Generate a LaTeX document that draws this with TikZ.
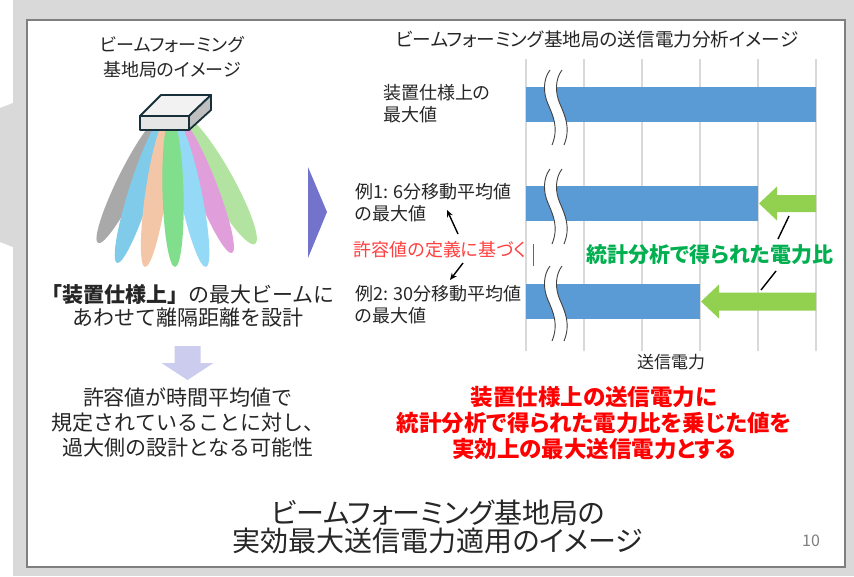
\documentclass[tikz,border=0pt]{standalone}
\usepackage{fontspec}
\setmainfont{Noto Sans CJK JP}[RawFeature={+palt}]
\newfontfamily\fullwidth{Noto Sans CJK JP}
\usetikzlibrary{arrows.meta}

\definecolor{bggray}{HTML}{D9D9D9}
\definecolor{slideedge}{HTML}{7F7F7F}
\definecolor{ink}{HTML}{262626}
\definecolor{gridgray}{HTML}{D9D9D9}
\definecolor{barblue}{HTML}{5B9BD5}
\definecolor{breakgray}{HTML}{404040}
\definecolor{arrowgreen}{HTML}{92D050}
\definecolor{ratiogreen}{HTML}{00B050}
\definecolor{basisred}{HTML}{FF4040}
\definecolor{boxline}{HTML}{17303A}
\definecolor{boxlight}{HTML}{F2F2F2}
\definecolor{boxside}{HTML}{BFBFBF}
\definecolor{nextarrow}{HTML}{7373CC}
\definecolor{downarrow}{HTML}{CCCCEE}
\definecolor{beamgray}{HTML}{A9A9A9}
\definecolor{beamblue}{HTML}{80CAEA}
\definecolor{beampeach}{HTML}{F4C6A8}
\definecolor{beamgreen}{HTML}{80DE8C}
\definecolor{beamsky}{HTML}{94D9F5}
\definecolor{beampink}{HTML}{E09EDB}
\definecolor{beamlime}{HTML}{B3E3A0}

\tikzset{
  txt/.style={inner sep=0pt, text=ink},
  gridline/.style={gridgray, line width=1.3pt},
  barfill/.style={fill=barblue},
  brkline/.style={draw=breakgray, line width=0.9pt},
  ptr/.style={-{Stealth[length=7pt,width=6pt]}, line width=1.4pt, black},
  leader/.style={line width=1.4pt, black},
  garrow/.style={fill=arrowgreen},
  boxface/.style={draw=boxline, line width=1.8pt, line join=round},
  brkmark/.pic={
    \fill[white] (0,0) .. controls (-7,9) and (-7,23) .. (-2,34)
      .. controls (3,46) and (9,58) .. (2,75) -- (14,75)
      .. controls (21,58) and (15,46) .. (10,34)
      .. controls (5,23) and (5,9) .. (12,0) -- cycle;
    \draw[brkline] (0,0) .. controls (-7,9) and (-7,23) .. (-2,34)
      .. controls (3,46) and (9,58) .. (2,75);
    \draw[brkline] (12,0) .. controls (5,9) and (5,23) .. (10,34)
      .. controls (15,46) and (21,58) .. (14,75);
  }
}

\begin{document}
\begin{tikzpicture}[x=1pt,y=-1pt]
\useasboundingbox (0,0) rectangle (854,576);

% backdrop and slide
\fill[white] (0,0) rectangle (854,576);
\fill[bggray] (13,0) rectangle (854,576);
\fill[bggray] (0,108) -- (13,103) -- (13,247) -- (0,242) -- cycle;
\filldraw[fill=white, draw=slideedge, line width=1.6pt] (27,20) rectangle (845,567);

% beams of the antenna
\foreach \tx/\ty/\px/\py/\w/\c in {
    160/118/98/243/22/beamgray,
    183/116/255/244/27/beamlime,
    163/118/117/263/22/beamblue,
    179/118/232/253/22/beampink,
    167/118/145/267/21/beampeach,
    175/118/206/267/22/beamsky,
    171/118/175/267/21/beamgreen} {
  \pgfmathsetmacro\ang{atan2(\px-\tx,\py-\ty)}
  \pgfmathsetmacro\len{veclen(\px-\tx,\py-\ty)}
  \begin{scope}[shift={(\tx,\ty)}, rotate=\ang]
    \fill[\c] (0,\len/2) ellipse ({\w/2} and {\len/2});
  \end{scope}
}

% antenna box
\filldraw[boxface, fill=boxlight] (140,116) -- (161,95) -- (211,95) -- (189,116) -- cycle;
\filldraw[boxface, fill=boxside] (189,116) -- (211,95) -- (211,110) -- (189,130) -- cycle;
\filldraw[boxface, fill=boxlight!95!black] (140,116) rectangle (189,130);

% left column texts
\node[txt, align=center, font=\fontsize{18}{25}\selectfont] (bstitle) at (172,57.5)
  {ビームフォーミング\\基地局のイメージ};
\node[txt, align=center, font=\fullwidth\fontsize{21}{22.5}\selectfont] (design) at (188,306)
  {{\bfseries 「装置仕様上」}の最大ビームに\\あわせて離隔距離を設計};
\fill[downarrow] (174.5,346) -- (200.5,346) -- (200.5,363) -- (213.5,363)
  -- (187.5,380) -- (161.5,363) -- (174.5,363) -- cycle;
\node[txt, align=center, font=\fullwidth\fontsize{21}{25}\selectfont] (risk) at (188,422)
  {許容値が時間平均値で\\規定されていることに対し、\\過大側の設計となる可能性};

% step marker
\fill[nextarrow] (308,167) -- (327,212) -- (308,258) -- cycle;

% chart
\node[txt, font=\fontsize{18.6}{22}\selectfont] (charttitle) at (597,39)
  {ビームフォーミング基地局の送信電力分析イメージ};
\foreach \gx in {526,584,642,700,758,816}
  \draw[gridline] (\gx,59) -- (\gx,351);
\fill[barfill] (526,87) rectangle (816,122);
\fill[barfill] (526,186) rectangle (758,221);
\fill[barfill] (526,284) rectangle (700,319);
\pic at (550,70) {brkmark};
\pic at (550,169) {brkmark};
\pic at (550,266) {brkmark};
\fill[garrow] (759,203.5) -- (777,186.5) -- (777,195) -- (816,195) -- (816,212)
  -- (777,212) -- (777,220.5) -- cycle;
\fill[garrow] (701,301.5) -- (719,284.5) -- (719,292.5) -- (816,292.5) -- (816,310.5)
  -- (719,310.5) -- (719,318.5) -- cycle;
\node[txt, font=\fontsize{17}{20}\selectfont] (axis) at (671,362) {送信電力};

% bar labels
\node[txt, anchor=west, align=left, font=\fontsize{18}{22}\selectfont] (spec) at (383,104)
  {装置仕様上の\\最大値};
\node[txt, anchor=west, align=left, font=\fontsize{18}{22}\selectfont] (ex1) at (355,202.5)
  {例1: 6分移動平均値\\の最大値};
\node[txt, anchor=west, align=left, font=\fontsize{18}{22}\selectfont] (ex2) at (355,305)
  {例2: 30分移動平均値\\の最大値};
\node[txt, text=basisred, font=\fontsize{18}{22}\selectfont] (basis) at (440,250)
  {許容値の定義に基づく};
\draw[breakgray!80, line width=0.8pt] (533,244) -- (533,266);
\coordinate (up0) at (458,234);
\coordinate (up1) at (447,210);
\coordinate (dn0) at (463,263);
\coordinate (dn1) at (450,280);
\draw[ptr] (up0) -- (up1);
\draw[ptr] (dn0) -- (dn1);

% ratio callout
\node[txt, text=ratiogreen, font=\fontsize{21}{24}\selectfont\bfseries] (ratio) at (710,255)
  {統計分析で得られた電力比};
\coordinate (l1a) at (789,216);
\coordinate (l1b) at (778,239);
\coordinate (l2a) at (776,271);
\coordinate (l2b) at (761,290);
\draw[leader] (l1a) -- (l1b);
\draw[leader] (l2a) -- (l2b);

% conclusion
\node[txt, text=red, align=center, font=\fontsize{22.5}{26}\selectfont\bfseries] (concl) at (594,423)
  {装置仕様上の送信電力に\\統計分析で得られた電力比を乗じた値を\\実効上の最大送信電力とする};

% caption and page number
\node[txt, align=center, font=\fontsize{28}{28.5}\selectfont] (caption) at (438,527)
  {ビームフォーミング基地局の\\実効最大送信電力適用のイメージ};
\node[txt, text=slideedge, font=\fontsize{16}{18}\selectfont] (pageno) at (811,541) {10};
\end{tikzpicture}
\end{document}
